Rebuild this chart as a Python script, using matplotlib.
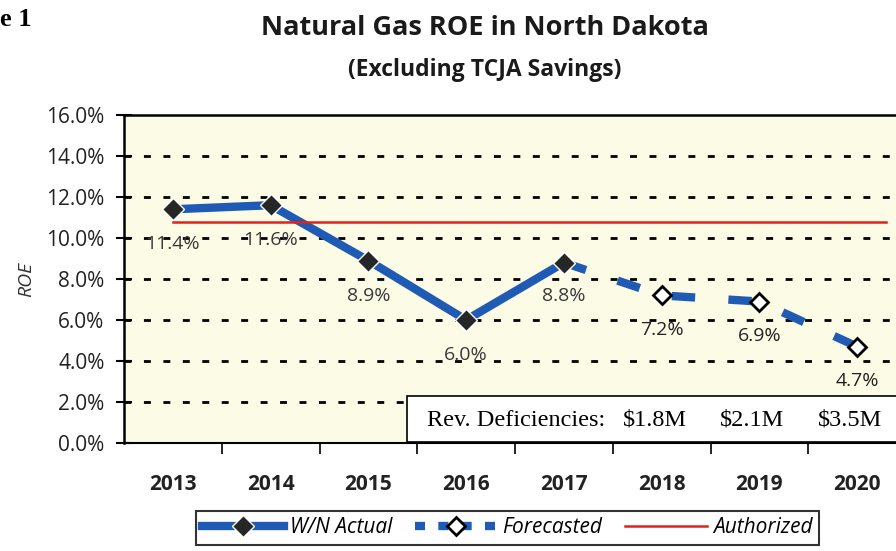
import matplotlib
matplotlib.use("Agg")
import matplotlib.pyplot as plt
from matplotlib.lines import Line2D

years = ["2013", "2014", "2015", "2016", "2017", "2018", "2019", "2020"]
actual_years = ["2013", "2014", "2015", "2016", "2017"]
actual_roe = [11.4, 11.6, 8.9, 6.0, 8.8]
forecast_years = ["2017", "2018", "2019", "2020"]
forecast_roe = [8.8, 7.2, 6.9, 4.7]
authorized_roe = 10.8
actual_labels = ["11.4%", "11.6%", "8.9%", "6.0%", "8.8%"]
forecast_labels = ["7.2%", "6.9%", "4.7%"]
deficiency_years = ["2018", "2019", "2020"]
deficiencies = ["$1.8M", "$2.1M", "$3.5M"]
yticks = [0, 2, 4, 6, 8, 10, 12, 14, 16]

plt.rcParams['font.family'] = ['Open Sans', 'DejaVu Sans']
blue = "#1F5BB5"

fig = plt.figure(figsize=(8.96, 5.51), dpi=100)
ax = fig.add_axes([124/896, 1-443/551, 782/896, 328/551])
ax.set_facecolor("#FCFBE6")

xi = {y: i for i, y in enumerate(years)}
ax.set_xlim(-0.5, len(years) - 0.5)
ax.set_ylim(0, 16)

# grid
for v in yticks[1:-1]:
    ax.axhline(v, color="black", lw=2.0, ls=(0, (2.5, 4.5)), zorder=1)

ax.plot([xi[y] for y in actual_years], actual_roe, color=blue, lw=6, zorder=3,
        solid_capstyle="butt")
ax.plot([xi[y] for y in actual_years], actual_roe, ls="none", marker="D", ms=11,
        mfc="#262626", mec="white", mew=1, zorder=5)
ax.plot([xi[y] for y in forecast_years], forecast_roe, color=blue, lw=6,
        ls=(0, (2.8, 4.0)), zorder=3)
ax.plot([xi[y] for y in forecast_years[1:]], forecast_roe[1:], ls="none", marker="D",
        ms=9, mfc="white", mec="black", mew=2, zorder=5)
ax.plot([0, len(years) - 0.7], [authorized_roe, authorized_roe], color="#E0231B", lw=1.8, zorder=4)

# data labels
offs = [(0.0, -1.7), (0.0, -1.7), (0.0, -1.75), (0.0, -1.7), (0.0, -1.65)]
for y, v, lab, (dx, dy) in zip(actual_years, actual_roe, actual_labels, offs):
    ax.text(xi[y] + dx, v + dy, lab, ha="center", va="center", fontsize=14, color="#3a3a3a", zorder=6)
for y, v, lab in zip(forecast_years[1:], forecast_roe[1:], forecast_labels):
    ax.text(xi[y], v - 1.7, lab, ha="center", va="center", fontsize=14, color="#222222", zorder=6)

# deficiency box
box_left = (407 - 124) / 782
ax.add_patch(plt.Rectangle((box_left, 0.002), 1.2, 0.14, transform=ax.transAxes,
                           facecolor="white", edgecolor="black", lw=1.2, zorder=7, clip_on=False))
ax.text(box_left + 0.025, 0.07, "Rev. Deficiencies:", transform=ax.transAxes,
        family="Liberation Serif", fontsize=17.5, va="center", ha="left", zorder=8)
for y, d in zip(deficiency_years, deficiencies):
    ax.text(xi[y] - 0.07, 0.07, d, transform=ax.get_xaxis_transform(), family="Liberation Serif",
            fontsize=17.5, va="center", ha="center", zorder=8)

# axes styling
ax.set_yticks(yticks)
ax.set_yticklabels([f"{v:.1f}%" for v in yticks], fontsize=15, color="#222222")
ax.set_xticks(range(len(years)))
ax.set_xticklabels(years, fontsize=15, fontweight="bold", color="#222222")
ax.tick_params(axis="x", length=0, pad=22)
ax.set_xticks([i + 0.5 for i in range(len(years))], minor=True)
ax.tick_params(axis="x", which="minor", length=8, width=1.2, direction="out")
ax.tick_params(axis="y", length=12, width=1.5, direction="inout", pad=8)
for s in ["left", "top"]:
    ax.spines[s].set_linewidth(1.8)
ax.spines["bottom"].set_linewidth(1.5)
ax.spines["right"].set_visible(False)
ax.set_ylabel("ROE", fontsize=14, style="italic", color="#333333", labelpad=8)

fig.text(485/896, 1-28/551, "Natural Gas ROE in North Dakota", ha="center", va="center",
         fontsize=19.5, fontweight="bold", color="#1a1a1a")
fig.text(485/896, 1-70/551, "(Excluding TCJA Savings)", ha="center", va="center",
         fontsize=16.5, fontweight="bold", color="#1a1a1a")
fig.text(0.0, 1-20/551, "e 1", ha="left", va="center", fontsize=19, fontweight="bold",
         family="Liberation Serif")

handles = [
    Line2D([], [], color=blue, lw=6, marker="D", ms=11, mfc="#262626", mec="white"),
    Line2D([], [], color=blue, lw=6, ls=(0, (1.2, 1.6)), marker="D", ms=9, mfc="white", mec="black", mew=2),
    Line2D([], [], color="#E0231B", lw=1.8),
]
leg = fig.legend(handles, ["W/N Actual", "Forecasted", "Authorized"], loc="upper left",
                 bbox_to_anchor=(196/896, 1-511/551), ncol=3, frameon=True, fancybox=False,
                 edgecolor="black", prop={"style": "italic", "size": 15}, handlelength=3.9,
                 columnspacing=1.1, borderpad=0.3, handletextpad=0.3, borderaxespad=0)
leg.get_frame().set_linewidth(1.5)

fig.savefig("out.png", dpi=100)
